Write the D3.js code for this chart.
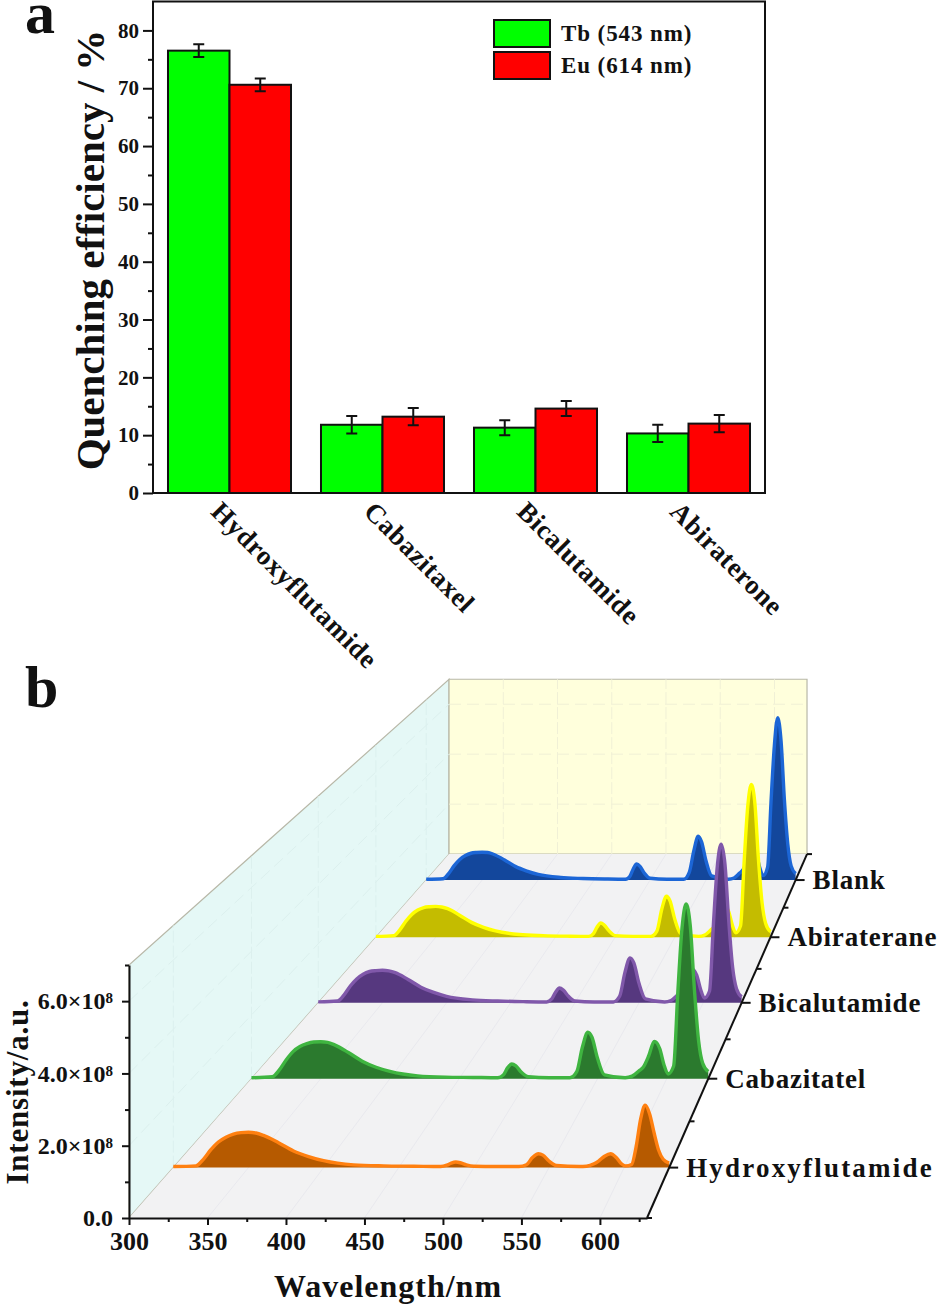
<!DOCTYPE html>
<html>
<head>
<meta charset="utf-8">
<style>
  html, body { margin: 0; padding: 0; background: #fff; }
  svg { display: block; }
  text { font-family: "Liberation Serif", serif; font-weight: bold; fill: #111; }
  .domain, .tick line { stroke: #111; }
</style>
<script src="https://cdnjs.cloudflare.com/ajax/libs/d3/7.8.5/d3.min.js"></script>
</head>
<body>
<svg id="chart" width="939" height="1306"></svg>
<script>
// ---- panel a data ----
const drugs = ["Hydroxyflutamide", "Cabazitaxel", "Bicalutamide", "Abiraterone"];
const tbValues = [76.5, 11.8, 11.3, 10.3];
const tbErrors = [1.1, 1.5, 1.3, 1.5];
const euValues = [70.6, 13.2, 14.6, 12.0];
const euErrors = [1.1, 1.5, 1.3, 1.5];
const legendLabels = ["Tb (543 nm)", "Eu (614 nm)"];

// ---- panel b data (intensity in units of 1e8) ----
const wavelengths = [300,315,320,325,330,335,340,345,350,355,360,370,380,390,400,420,440,460,478,482,485,488,491,495,500,515,530,535,539,543,546,550,555,570,575,580,583,587,591,595,598,601,605,608,611,614,617,620,623,626,630];
const hydroxyCurve = [.03,.05,.24,.52,.74,.88,.97,1.01,1.02,1.0,.93,.72,.48,.32,.20,.08,.05,.04,.03,.07,.13,.16,.14,.08,.04,.03,.03,.08,.29,.40,.36,.19,.06,.03,.04,.11,.19,.33,.40,.28,.12,.05,.09,.60,1.40,1.80,1.55,1.0,.50,.24,.13];
const cabaCurve = [.03,.06,.27,.59,.85,1.01,1.10,1.15,1.16,1.14,1.06,.82,.55,.36,.23,.09,.05,.04,.03,.12,.34,.46,.40,.20,.06,.03,.03,.22,.98,1.46,1.30,.64,.12,.03,.08,.25,.36,.72,1.17,.94,.44,.15,.40,2.7,4.7,5.48,4.8,2.8,1.2,.48,.22];
const bicaCurve = [.03,.06,.26,.57,.81,.97,1.06,1.09,1.10,1.08,1.02,.79,.53,.35,.22,.10,.06,.04,.03,.13,.36,.50,.43,.22,.06,.03,.03,.23,1.02,1.52,1.35,.66,.13,.03,.08,.26,.38,.74,1.15,.94,.46,.16,.40,2.65,4.6,5.37,4.7,2.75,1.2,.48,.20];
const abiCurve = [.03,.06,.27,.58,.83,.99,1.08,1.11,1.12,1.10,1.04,.80,.54,.36,.23,.10,.06,.04,.03,.13,.37,.52,.44,.23,.06,.03,.03,.22,1.0,1.49,1.32,.65,.13,.03,.08,.26,.38,.74,1.15,.94,.46,.16,.42,2.75,4.75,5.55,4.85,2.8,1.25,.50,.20];
const blankCurve = [.03,.05,.25,.56,.80,.95,1.04,1.07,1.08,1.07,1.0,.78,.52,.35,.22,.10,.06,.04,.03,.15,.44,.62,.53,.26,.07,.03,.03,.30,1.12,1.70,1.48,.74,.16,.03,.08,.27,.40,.78,1.20,.98,.48,.17,.50,3.0,5.2,6.30,5.4,3.1,1.4,.55,.25];

const seriesNames = ["Blank", "Abiraterane", "Bicalutamide", "Cabazitatel", "Hydroxyflutamide"];
const seriesCurves = [blankCurve, abiCurve, bicaCurve, cabaCurve, hydroxyCurve];
const seriesDepths = [9, 7, 5, 3, 1];
const lineColors = ["#1c66d6", "#ffff00", "#8058aa", "#3fb540", "#ff8010"];
const fillColors = ["#13479c", "#c4bc00", "#56387f", "#2b7a2e", "#b65a00"];

const svg = d3.select("#chart");

// -------------------------------------------------
// Panel a: grouped bars
// -------------------------------------------------
const ax0 = 153, ax1 = 765, ayTop = 1.5, ayBottom = 493;

const xBand = d3.scaleBand().domain(drugs).range([ax0, ax1]).paddingInner(0.196).paddingOuter(0.098);
const xInner = d3.scaleBand().domain([0, 1]).range([0, xBand.bandwidth()]);
const yA = d3.scaleLinear().domain([0, 85]).range([ayBottom, ayTop]);

const panelA = svg.append("g");
const barSets = [
  { values: tbValues, errors: tbErrors, color: "#00ff00" },
  { values: euValues, errors: euErrors, color: "#ff0000" },
];

barSets.forEach((set, k) => {
  drugs.forEach((drug, i) => {
    const x = xBand(drug) + xInner(k);
    const cx = x + xInner.bandwidth() / 2;
    const v = set.values[i], e = set.errors[i];
    panelA.append("rect")
      .attr("x", x).attr("y", yA(v))
      .attr("width", xInner.bandwidth()).attr("height", yA(0) - yA(v))
      .attr("fill", set.color).attr("stroke", "#111").attr("stroke-width", 2);
    panelA.append("path")
      .attr("d", `M${cx - 5.5},${yA(v + e)}H${cx + 5.5}M${cx},${yA(v + e)}V${yA(v - e)}M${cx - 5.5},${yA(v - e)}H${cx + 5.5}`)
      .attr("fill", "none").attr("stroke", "#111").attr("stroke-width", 2);
  });
});

// frame
panelA.append("path")
  .attr("d", `M${ax0},${ayBottom}V${ayTop}H${ax1}V${ayBottom}H${ax0}`)
  .attr("fill", "none").attr("stroke", "#111").attr("stroke-width", 2);

const yAxisA = panelA.append("g").attr("transform", `translate(${ax0},0)`)
  .call(d3.axisLeft(yA).tickValues(d3.range(0, 81, 10)).tickSize(10).tickPadding(4).tickSizeOuter(0));
yAxisA.select(".domain").remove();
yAxisA.selectAll("line").attr("stroke-width", 2);
yAxisA.selectAll("text").style("font-size", "21px");

const yMinorA = panelA.append("g").attr("transform", `translate(${ax0},0)`)
  .call(d3.axisLeft(yA).tickValues(d3.range(5, 81, 10)).tickSize(5).tickFormat(""));
yMinorA.select(".domain").remove();
yMinorA.selectAll("line").attr("stroke-width", 2);

panelA.selectAll(".drugLabel")
  .data(drugs)
  .enter()
  .append("text")
  .attr("class", "drugLabel")
  .attr("transform", d => `translate(${xBand(d) + xBand.bandwidth() / 2 - 20},${ayBottom + 20}) rotate(45)`)
  .style("font-size", "27px")
  .style("letter-spacing", "0.6px")
  .text(d => d);

panelA.append("text")
  .attr("transform", "translate(104,250) rotate(-90)")
  .attr("text-anchor", "middle")
  .style("font-size", "41px")
  .text("Quenching efficiency / %");

// legend
legendLabels.forEach((label, i) => {
  const ly = 20 + i * 32;
  panelA.append("rect").attr("x", 494).attr("y", ly).attr("width", 56).attr("height", 27)
    .attr("fill", barSets[i].color).attr("stroke", "#111").attr("stroke-width", 2);
  panelA.append("text").attr("x", 561).attr("y", ly + 21)
    .style("font-size", "23px").style("letter-spacing", "0.9px").text(label);
});

svg.append("text").attr("x", 25).attr("y", 33).style("font-size", "60px").text("a");
svg.append("text").attr("x", 25).attr("y", 707).style("font-size", "60px").text("b");

// -------------------------------------------------
// Panel b: 3D waterfall, perspective towards a vanishing point
// -------------------------------------------------
const xB = d3.scaleLinear().domain([300, 630]).range([129, 647]);
const yB = d3.scaleLinear().domain([0, 7e8]).range([1218, 965]);
const vanish = [1165, 40];
const depthK = 0.0447, maxDepth = 10;

function project(nm, val, depth) {
  const s = 1 / (1 + depthK * depth);
  return [vanish[0] + (xB(nm) - vanish[0]) * s, vanish[1] + (yB(val) - vanish[1]) * s];
}

const panelB = svg.append("g");
const poly = d3.line();
const wallEdge = "#b8b8a8";

const nmMax = 630, valMax = 7e8;
panelB.append("path")
  .attr("d", poly([project(300, 0, 0), project(300, valMax, 0), project(300, valMax, maxDepth), project(300, 0, maxDepth)]) + "Z")
  .attr("fill", "#e5f8f6").attr("stroke", wallEdge).attr("stroke-width", 1.2);
panelB.append("path")
  .attr("d", poly([project(300, 0, maxDepth), project(300, valMax, maxDepth), project(nmMax, valMax, maxDepth), project(nmMax, 0, maxDepth)]) + "Z")
  .attr("fill", "#ffffdc").attr("stroke", wallEdge).attr("stroke-width", 1.2);
panelB.append("path")
  .attr("d", poly([project(300, 0, 0), project(nmMax, 0, 0), project(nmMax, 0, maxDepth), project(300, 0, maxDepth)]) + "Z")
  .attr("fill", "#f2f2f3");

// faint grid on the walls and floor
const majorNm = d3.range(300, 601, 50);
const majorVal = [2e8, 4e8, 6e8];
const gridG = panelB.append("g").attr("fill", "none").attr("stroke-width", 1);
majorNm.slice(1).forEach(nm => {
  gridG.append("path").attr("d", poly([project(nm, 0, maxDepth), project(nm, valMax, maxDepth)]))
    .attr("stroke", "#f0f0d6").attr("stroke-dasharray", "12 3");
  gridG.append("path").attr("d", poly([project(nm, 0, 0), project(nm, 0, maxDepth)]))
    .attr("stroke", "#e9e9ee");
});
majorVal.forEach(v => {
  gridG.append("path").attr("d", poly([project(300, v, maxDepth), project(nmMax, v, maxDepth)]))
    .attr("stroke", "#f0f0d6").attr("stroke-dasharray", "12 6");
  gridG.append("path").attr("d", poly([project(300, v, 0), project(300, v, maxDepth)]))
    .attr("stroke", "#dcf0ee").attr("stroke-dasharray", "12 6");
});
seriesDepths.forEach(z => {
  gridG.append("path").attr("d", poly([project(300, 0, z), project(300, valMax, z)]))
    .attr("stroke", "#dcf0ee").attr("stroke-dasharray", "12 3");
});

// spectra, back to front
seriesNames.forEach((name, i) => {
  const z = seriesDepths[i];
  const points = wavelengths.map((nm, j) => ({ nm, val: seriesCurves[i][j] * 1e8 }));
  const area = d3.area()
    .x(d => project(d.nm, d.val, z)[0])
    .y1(d => project(d.nm, d.val, z)[1])
    .y0(project(300, 0, z)[1])
    .curve(d3.curveMonotoneX);
  const line = d3.line()
    .x(d => project(d.nm, d.val, z)[0])
    .y(d => project(d.nm, d.val, z)[1])
    .curve(d3.curveMonotoneX);
  panelB.append("path").datum(points).attr("d", area).attr("fill", fillColors[i]);
  panelB.append("path").datum(points).attr("d", line)
    .attr("fill", "none").attr("stroke", lineColors[i]).attr("stroke-width", 3.4);
});

// axes
const xAxisB = panelB.append("g").attr("transform", `translate(0,${yB(0)})`)
  .call(d3.axisBottom(xB).tickValues(majorNm).tickSize(7).tickPadding(7).tickSizeOuter(0));
xAxisB.selectAll("line").attr("stroke-width", 2);
xAxisB.select(".domain").attr("stroke-width", 2);
xAxisB.selectAll("text").style("font-size", "26px");

const xMinorB = panelB.append("g").attr("transform", `translate(0,${yB(0)})`)
  .call(d3.axisBottom(xB).tickValues(d3.range(325, 626, 50)).tickSize(4).tickFormat("").tickSizeOuter(0));
xMinorB.select(".domain").remove();
xMinorB.selectAll("line").attr("stroke-width", 2);

const yAxisB = panelB.append("g").attr("transform", `translate(${xB(300)},0)`)
  .call(d3.axisLeft(yB).tickValues([0, 2e8, 4e8, 6e8]).tickSize(7).tickPadding(9).tickSizeOuter(0));
yAxisB.select(".domain").attr("stroke-width", 2);
yAxisB.selectAll("line").attr("stroke-width", 2);
yAxisB.selectAll("text").style("font-size", "24px").each(function (d) {
  const t = d3.select(this).text(null);
  if (d === 0) { t.text("0.0"); return; }
  t.append("tspan").text((d / 1e8).toFixed(1) + "×10");
  t.append("tspan").attr("dy", "-0.4em").style("font-size", "15px").text("8");
});

const yMinorB = panelB.append("g").attr("transform", `translate(${xB(300)},0)`)
  .call(d3.axisLeft(yB).tickValues([1e8, 3e8, 5e8, 7e8]).tickSize(4).tickFormat("").tickSizeOuter(0));
yMinorB.select(".domain").remove();
yMinorB.selectAll("line").attr("stroke-width", 2);

// depth axis on the right of the floor
panelB.append("path")
  .attr("d", poly([project(nmMax, 0, 0), project(nmMax, 0, maxDepth)]))
  .attr("fill", "none").attr("stroke", "#111").attr("stroke-width", 2);
d3.range(0, maxDepth + 1).forEach(z => {
  const p = project(nmMax, 0, z);
  const major = z % 2 === 1;
  panelB.append("line")
    .attr("x1", p[0]).attr("x2", p[0] + (major ? 9 : 5))
    .attr("y1", p[1]).attr("y2", p[1])
    .attr("stroke", "#111").attr("stroke-width", 2);
});
seriesNames.forEach((name, i) => {
  const p = project(nmMax, 0, seriesDepths[i]);
  panelB.append("text")
    .attr("x", p[0] + 17).attr("y", p[1] + 9)
    .style("font-size", "27px")
    .style("letter-spacing", name === "Hydroxyflutamide" ? "2.2px" : "0.8px")
    .text(name);
});

panelB.append("text")
  .attr("x", 388).attr("y", 1297).attr("text-anchor", "middle")
  .style("font-size", "32px").style("letter-spacing", "1px")
  .text("Wavelength/nm");
panelB.append("text")
  .attr("transform", "translate(28,1092) rotate(-90)").attr("text-anchor", "middle")
  .style("font-size", "31px").style("letter-spacing", "0.8px")
  .text("Intensity/a.u.");
</script>
</body>
</html>
